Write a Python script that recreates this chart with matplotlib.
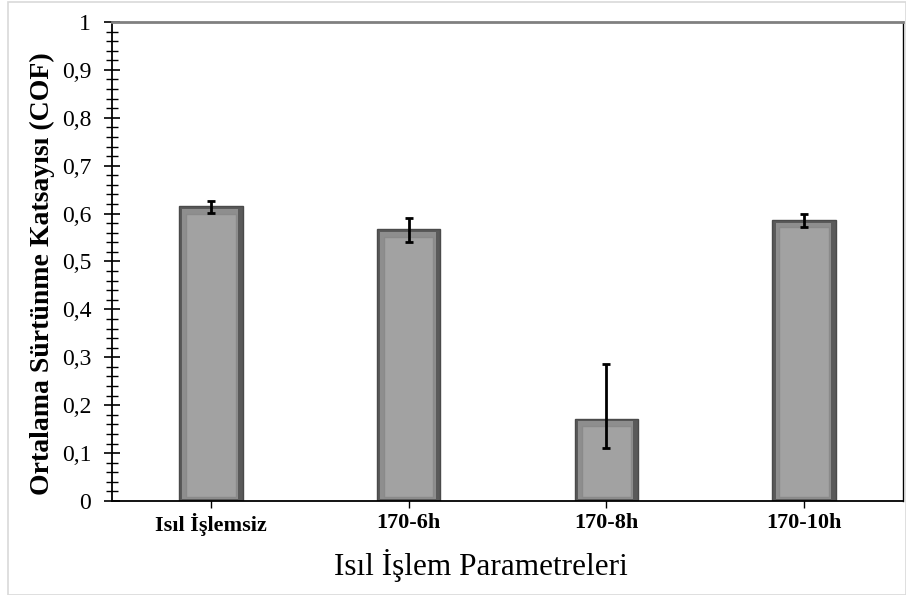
import matplotlib
matplotlib.use("Agg")
import matplotlib.pyplot as plt
from matplotlib.patches import Rectangle
from matplotlib.ticker import MultipleLocator, FuncFormatter
import numpy as np

categories = ["Isıl İşlemsiz", "170-6h", "170-8h", "170-10h"]
cof_mean = [0.615, 0.568, 0.172, 0.587]
err_low = [0.014, 0.028, 0.062, 0.014]
err_high = [0.011, 0.022, 0.113, 0.012]

W, H = 906, 595
fig = plt.figure(figsize=(W / 100, H / 100), dpi=100)
ax = fig.add_axes([112 / W, 1 - 501 / H, (903 - 112) / W, (501 - 22) / H])

# figure border
fig.patches.append(Rectangle((8 / W, 0), 1 - 8 / W, 1 - 2 / H, transform=fig.transFigure,
                             fill=False, edgecolor="#d9d9d9", lw=1.2))

x = np.arange(len(categories))
vals = np.array(cof_mean)
bw = 0.32
# bevel-like bar: dark outer, lighter inner
ax.bar(x, vals, width=bw, color="#5a5a5a", edgecolor="#4a4a4a", lw=1.0, zorder=2)
ax.bar(x - 0.004, vals - 0.010, bottom=0.004, width=bw - 0.04, color="#8e8e8e", lw=0, zorder=3)
ax.bar(x, vals - 0.024, bottom=0.008, width=bw - 0.07, color="#a2a2a2",
       edgecolor="#8a8a8a", lw=1.0, zorder=4)
ax.errorbar(x, vals, yerr=[err_low, err_high], fmt="none", ecolor="black",
            elinewidth=2, capsize=3, capthick=2, zorder=6)

ax.set_xlim(-0.5, len(categories) - 0.5)
ax.set_ylim(0, 1)
ax.yaxis.set_major_locator(MultipleLocator(0.1))
ax.yaxis.set_minor_locator(MultipleLocator(0.02))
ax.yaxis.set_major_formatter(FuncFormatter(lambda v, p: ("%g" % round(v, 2)).replace(".", ",")))
ax.tick_params(axis="y", which="major", direction="inout", length=12, width=1.2,
               labelsize=17, pad=9)
ax.tick_params(axis="y", which="minor", direction="inout", length=9, width=1.0)
ax.set_xticks(x)
ax.set_xticklabels(categories, fontsize=16, fontweight="bold", fontfamily="Liberation Serif")
ax.tick_params(axis="x", direction="inout", length=10, width=1.0, pad=4)
for lab in ax.get_yticklabels():
    lab.set_fontfamily("Liberation Serif")

ax.spines["top"].set_color("#808080")
ax.spines["top"].set_linewidth(2)
ax.spines["right"].set_color("black")
ax.spines["right"].set_linewidth(1)
ax.spines["left"].set_linewidth(1.3)
ax.spines["bottom"].set_linewidth(1.3)

ax.set_ylabel("Ortalama Sürtünme Katsayısı (COF)", fontsize=20, fontfamily="Liberation Serif",
              fontweight="bold")
ax.yaxis.set_label_coords(-0.072, 0.474)
ax.set_xlabel("Isıl İşlem Parametreleri", fontsize=22.5, fontfamily="Liberation Serif", labelpad=9)
ax.xaxis.label.set_x(0.4665)

fig.savefig("out.png", dpi=100)
